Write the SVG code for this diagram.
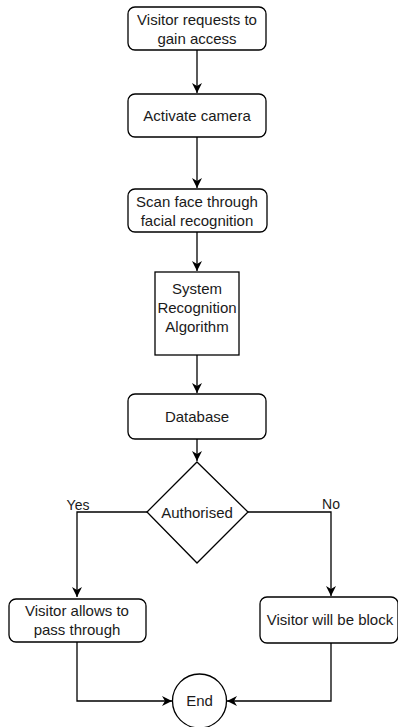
<svg xmlns="http://www.w3.org/2000/svg" width="398" height="727" viewBox="0 0 398 727">
<style>
.box{fill:#fff;stroke:#000;stroke-width:1.3}
.t{font-family:"Liberation Sans",Arial,sans-serif;font-size:15px;fill:#1a1a1a;text-anchor:middle}
.l{font-family:"Liberation Sans",Arial,sans-serif;font-size:14px;fill:#1a1a1a;text-anchor:middle}
.c{fill:none;stroke:#000;stroke-width:1.3}
</style>
<defs>
<marker id="a" viewBox="0 0 10 10" refX="10" refY="5" markerWidth="10" markerHeight="10" markerUnits="userSpaceOnUse" orient="auto">
<path d="M0,0 L10,5 L0,10 L3,5 Z" fill="#000"/>
</marker>
</defs>
<g id="connectors">
<path class="c" d="M197,50 V93" marker-end="url(#a)"/>
<path class="c" d="M197,137 V188" marker-end="url(#a)"/>
<path class="c" d="M197,232 V271" marker-end="url(#a)"/>
<path class="c" d="M197,355 V393" marker-end="url(#a)"/>
<path class="c" d="M197,439 V461" marker-end="url(#a)"/>
<path class="c" d="M147,512 H77 V597" marker-end="url(#a)"/>
<path class="c" d="M248,512 H331 V596" marker-end="url(#a)"/>
<path class="c" d="M77,642 V701 H172" marker-end="url(#a)"/>
<path class="c" d="M331,643 V701 H227" marker-end="url(#a)"/>
<text class="l" x="78" y="510">Yes</text>
<text class="l" x="331" y="509">No</text>
</g>
<g id="n1"><rect class="box" x="128" y="7" width="138" height="43" rx="7"/><text class="t" x="197" y="25">Visitor requests to</text><text class="t" x="197" y="44">gain access</text></g>
<g id="n2"><rect class="box" x="128" y="94" width="138" height="43" rx="7"/><text class="t" x="197" y="121">Activate camera</text></g>
<g id="n3"><rect class="box" x="128" y="189" width="139" height="43" rx="7"/><text class="t" x="197" y="207">Scan face through</text><text class="t" x="197" y="226">facial recognition</text></g>
<g id="n4"><rect class="box" x="155" y="272" width="84" height="83"/><text class="t" x="197" y="294">System</text><text class="t" x="197" y="313">Recognition</text><text class="t" x="197" y="332">Algorithm</text></g>
<g id="n5"><rect class="box" x="128" y="394" width="138" height="45" rx="7"/><text class="t" x="197" y="422">Database</text></g>
<g id="n6"><path class="box" d="M197,462 L248,512 L197,563 L147,512 Z"/><text class="t" x="197" y="518">Authorised</text></g>
<g id="n7"><rect class="box" x="9" y="599" width="137" height="43" rx="7"/><text class="t" x="77" y="616">Visitor allows to</text><text class="t" x="77" y="635">pass through</text></g>
<g id="n8"><rect class="box" x="260" y="597" width="138" height="46" rx="7"/><text class="t" x="330" y="625">Visitor will be block</text></g>
<g id="n9"><circle class="box" cx="199.5" cy="701" r="27"/><text class="t" x="199.5" y="706">End</text></g>
</svg>
